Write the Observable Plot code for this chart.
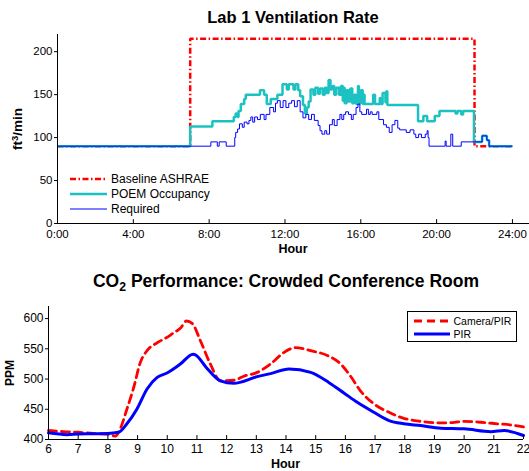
<!DOCTYPE html>
<html>
<head>
<meta charset="utf-8">
<script src="https://cdn.jsdelivr.net/npm/d3@7"></script>
<script src="https://cdn.jsdelivr.net/npm/@observablehq/plot@0.6"></script>
<style>
  body { margin: 0; background: #fff; font-family: "Liberation Sans", Arial, Helvetica, sans-serif; color: #000; }
  #wrap { position: relative; width: 529px; height: 471px; overflow: hidden; background: #fff; }
  .abs { position: absolute; }
  .title { font-weight: bold; text-align: center; line-height: 20px; white-space: nowrap; }
  .xlab { font-weight: bold; font-size: 12.5px; text-align: center; line-height: 14px; }
  .rot { transform: translate(-50%, -50%) rotate(-90deg); font-weight: bold; white-space: nowrap; line-height: 16px; }
  .legrow { display: flex; align-items: center; height: 16px; white-space: nowrap; }
  sub { font-size: 0.7em; vertical-align: -0.3em; line-height: 0; }
  sup { font-size: 0.7em; vertical-align: 0.45em; line-height: 0; }
</style>
</head>
<body>
<div id="wrap">
  <div id="c1" class="abs" style="left:0;top:0"></div>
  <div id="c2" class="abs" style="left:0;top:255px"></div>
  <div class="abs title" style="left:57px;width:472px;top:7px;font-size:16.5px">Lab 1 Ventilation Rate</div>
  <div class="abs xlab" style="left:57px;width:472px;top:242px">Hour</div>
  <div class="abs rot" style="left:18px;top:128.5px;font-size:13.5px">ft<sup>3</sup>/min</div>
  <div id="leg1" class="abs" style="left:70px;top:0"></div>
  <div class="abs title" style="left:0;width:572px;top:271px;font-size:17.5px">CO<sub>2</sub> Performance: Crowded Conference Room</div>
  <div class="abs xlab" style="left:48px;width:475px;top:457px">Hour</div>
  <div class="abs rot" style="left:10px;top:372.5px;font-size:12px">PPM</div>
  <div id="leg2" class="abs" style="left:406.5px;top:311px;width:108px;height:29px;border:1px solid #000;background:#fff"></div>
</div>
<script>
// ---------- Chart 1: Lab 1 Ventilation Rate ----------
const ventXTicks = [0, 4, 8, 12, 16, 20, 24];
const ventXLabels = ["0:00", "4:00", "8:00", "12:00", "16:00", "20:00", "24:00"];
const ventYTicks = [0, 50, 100, 150, 200];

const baselineHours  = [0, 7, 22, 24];
const baselineValues = [90, 215, 90, 90];

const poemHours = [0, 7, 8.17, 9.3, 9.4, 9.5, 9.55, 9.67, 9.85, 9.93, 10.68, 10.9, 11.04, 11.25, 11.6, 11.87, 12.1, 12.2, 12.45, 12.55, 12.7, 12.8, 12.95, 13.05, 13.15, 13.25, 13.35, 13.5, 13.6, 13.75, 13.85, 14.0, 14.1, 14.2, 14.3, 14.4, 14.5, 14.6, 14.7, 14.85, 14.95, 15.05, 15.1, 15.15, 15.25, 15.35, 15.45, 15.55, 15.65, 15.75, 15.85, 15.9, 16.0, 16.1, 16.15, 16.2, 16.65, 16.75, 17.0, 17.05, 17.15, 17.3, 17.35, 17.4, 19.02, 19.3, 19.5, 19.9, 20.15, 21.0, 21.1, 21.3, 21.4, 21.97, 22.4, 22.65, 22.77, 24];
const poemValues = [90, 113, 119, 124, 128, 124, 131, 139, 145, 150, 155, 150, 139, 145, 150, 162, 156, 162, 156, 162, 155, 148, 138, 128, 135, 142, 156, 150, 158, 151, 157, 150, 158, 152, 167, 156, 160, 150, 158, 150, 160, 143, 158, 140, 155, 142, 157, 140, 150, 139, 160, 140, 155, 139, 150, 139, 150, 139, 146, 139, 152, 141, 154, 138, 119, 125, 119, 125, 131, 128, 131, 127, 131, 95, 102, 97, 90, 90];

const reqHours = [0, 8.09, 8.43, 8.53, 8.9, 9.35, 9.4, 9.5, 9.6, 9.75, 9.85, 10.0, 10.1, 10.2, 10.3, 10.4, 10.55, 10.7, 10.9, 11.0, 11.2, 11.4, 11.5, 11.6, 11.75, 11.9, 12.05, 12.2, 12.35, 12.5, 12.65, 12.8, 12.95, 13.1, 13.25, 13.4, 13.55, 13.75, 13.85, 13.95, 14.1, 14.2, 14.35, 14.5, 14.6, 14.75, 14.9, 15.0, 15.1, 15.2, 15.35, 15.5, 15.6, 15.75, 15.85, 15.95, 16.05, 16.3, 16.4, 16.5, 16.6, 16.85, 16.95, 17.2, 17.35, 17.5, 17.65, 17.8, 17.95, 18.05, 18.4, 18.6, 18.8, 18.9, 19.05, 19.2, 19.4, 19.5, 19.55, 19.6, 20.45, 20.5, 20.75, 20.85, 21.3, 22.4, 22.65, 22.77, 24];
const reqValues = [90, 95, 90, 95, 90, 100, 106, 110, 116, 112, 118, 116, 120, 124, 118, 124, 121, 127, 121, 127, 135, 130, 140, 143, 135, 143, 135, 140, 143, 136, 143, 130, 123, 127, 121, 127, 120, 114, 108, 104, 108, 104, 115, 121, 114, 121, 127, 121, 127, 130, 127, 121, 127, 135, 139, 130, 127, 133, 127, 130, 127, 130, 121, 115, 112, 106, 115, 120, 111, 109, 106, 109, 104, 100, 104, 100, 104, 108, 100, 90, 96, 90, 104, 90, 95, 102, 97, 90, 90];

const ventSeries = [
  {name: "Baseline ASHRAE", hours: baselineHours, values: baselineValues, color: "#ff0000", width: 2.5, dash: "6,2.5,1.5,2.5"},
  {name: "POEM Occupancy", hours: poemHours, values: poemValues, color: "#1cc2c2", width: 2.5, dash: null},
  {name: "Required", hours: reqHours, values: reqValues, color: "#0000ff", width: 1, dash: null}
];
const toRows = s => s.hours.map((h, i) => ({h, v: s.values[i]}));

const font = "Liberation Sans, Arial, Helvetica, sans-serif";

const chart1 = Plot.plot({
  width: 529, height: 250,
  marginTop: 34, marginBottom: 27, marginLeft: 57, marginRight: 0,
  style: {fontFamily: font, fontSize: "11.5px", color: "#000", background: "transparent", overflow: "visible"},
  x: {domain: [0, 24.9]},
  y: {domain: [0, 220]},
  marks: [
    ...ventSeries.map(s => Plot.line(toRows(s), {x: "h", y: "v", curve: "step-after", stroke: s.color, strokeWidth: s.width, strokeDasharray: s.dash, strokeLinejoin: "miter", strokeLinecap: "butt"})),
    Plot.ruleY([0], {stroke: "#000"}),
    Plot.ruleX([0], {y1: 0, y2: 220, stroke: "#000"}),
    Plot.ruleX(ventXTicks, {y1: 0, y2: 4.5, stroke: "#000"}),
    Plot.axisY({ticks: ventYTicks, tickSize: 3, tickPadding: 2, label: null}),
    Plot.axisX({ticks: ventXTicks, tickSize: 0, tickPadding: 6, label: null, tickFormat: d => ventXLabels[ventXTicks.indexOf(d)]})
  ]
});
document.getElementById("c1").appendChild(chart1);

// legend 1
const leg1 = document.getElementById("leg1");
const leg1Y = [179, 194, 209];
ventSeries.forEach((s, i) => {
  const row = document.createElement("div");
  row.className = "legrow abs";
  row.style.left = "0px";
  row.style.top = (leg1Y[i] - 8) + "px";
  row.style.fontSize = "12px";
  row.innerHTML = `<svg width="37" height="16"><line x1="0" x2="37" y1="8" y2="8" stroke="${s.color}" stroke-width="${s.width === 1 ? 1 : 2.5}" ${s.dash ? `stroke-dasharray="${s.dash}"` : ""}/></svg><span style="margin-left:4px">${s.name}</span>`;
  leg1.appendChild(row);
});

// ---------- Chart 2: CO2 Performance ----------
const co2XTicks = [6, 7, 8, 9, 10, 11, 12, 13, 14, 15, 16, 17, 18, 19, 20, 21, 22];
const co2YTicks = [400, 450, 500, 550, 600];

const camHours  = [6, 6.5, 7, 7.5, 8.08, 8.25, 8.42, 8.64, 8.87, 9.09, 9.32, 9.66, 9.99, 10.2, 10.44, 10.65, 10.84, 11.12, 11.45, 11.79, 12.24, 12.6, 13.03, 13.48, 13.93, 14.32, 14.6, 14.83, 15.39, 15.84, 16.17, 16.5, 16.96, 17.47, 17.97, 18.54, 19.21, 19.6, 20.0, 20.56, 21.12, 21.57, 22];
const camValues = [415, 413, 412, 410, 408, 405.5, 418, 450, 486, 527, 547, 560, 569, 576, 584, 596, 592, 563, 525, 497, 498, 505, 511, 525, 544, 552, 550, 547, 539, 525, 505, 481, 459, 445, 435, 430, 427.5, 428, 430, 428.5, 426, 424, 421];

const pirHours  = [6, 6.62, 7, 7.5, 8.08, 8.36, 8.64, 8.98, 9.32, 9.66, 9.99, 10.44, 10.87, 10.95, 11.3, 11.79, 12.24, 13.03, 13.48, 14.1, 14.83, 15.45, 15.95, 16.4, 16.96, 17.47, 17.97, 18.54, 19.21, 20, 20.9, 21.35, 22];
const pirValues = [411, 408, 409, 409.5, 410.4, 412, 426, 450.6, 483.6, 502.7, 510, 524.8, 541, 540, 520, 497, 493, 504, 509, 516.5, 511, 494, 477, 461.5, 445, 431.3, 426, 423, 418.6, 417.6, 413, 414.8, 406.6];

const co2Series = [
  {name: "Camera/PIR", hours: camHours, values: camValues, color: "#ff0000", width: 2.8, dash: "8,5"},
  {name: "PIR", hours: pirHours, values: pirValues, color: "#0000ff", width: 3, dash: null}
];

const chart2 = Plot.plot({
  width: 529, height: 216,
  marginTop: 51, marginBottom: 32, marginLeft: 48, marginRight: 6,
  style: {fontFamily: font, fontSize: "12px", color: "#000", background: "transparent", overflow: "visible"},
  x: {domain: [6, 22]},
  y: {domain: [400, 620]},
  marks: [
    ...co2Series.map(s => Plot.line(toRows(s), {x: "h", y: "v", curve: "monotone-x", stroke: s.color, strokeWidth: s.width, strokeDasharray: s.dash})),
    Plot.ruleY([400], {stroke: "#000"}),
    Plot.ruleX([6], {y1: 400, y2: 620, stroke: "#000"}),
    Plot.ruleX(co2XTicks, {y1: 400, y2: 406.5, stroke: "#000"}),
    Plot.axisY({ticks: co2YTicks, tickSize: 3, tickPadding: 2, label: null}),
    Plot.axisX({ticks: co2XTicks, tickSize: 0, tickPadding: 5, label: null, tickFormat: d => String(d)})
  ]
});
document.getElementById("c2").appendChild(chart2);

// legend 2
const leg2 = document.getElementById("leg2");
const leg2Y = [9, 22.3];
co2Series.forEach((s, i) => {
  const row = document.createElement("div");
  row.className = "legrow abs";
  row.style.left = "6px";
  row.style.top = (leg2Y[i] - 8) + "px";
  row.style.fontSize = "10.5px";
  row.innerHTML = `<svg width="36" height="16"><line x1="0" x2="36" y1="8" y2="8" stroke="${s.color}" stroke-width="${s.width}" ${s.dash ? `stroke-dasharray="${s.dash}"` : ""}/></svg><span style="margin-left:4px">${s.name}</span>`;
  leg2.appendChild(row);
});
</script>
</body>
</html>
